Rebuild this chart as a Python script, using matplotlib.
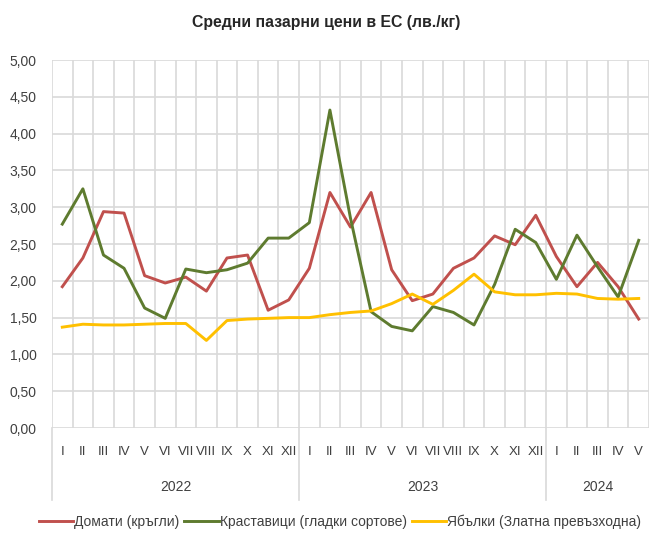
import matplotlib
matplotlib.use("Agg")
import matplotlib.pyplot as plt
from matplotlib.lines import Line2D
import matplotlib.transforms as mtransforms

plt.rcParams['font.family'] = ['Liberation Sans', 'DejaVu Sans']

months = ["I", "II", "III", "IV", "V", "VI", "VII", "VIII", "IX", "X", "XI", "XII",
          "I", "II", "III", "IV", "V", "VI", "VII", "VIII", "IX", "X", "XI", "XII",
          "I", "II", "III", "IV", "V"]
years = ["2022", "2023", "2024"]
year_counts = [12, 12, 5]

tomatoes = [1.92, 2.31, 2.94, 2.92, 2.07, 1.97, 2.05, 1.86, 2.31, 2.35, 1.60, 1.74,
            2.17, 3.20, 2.73, 3.20, 2.15, 1.73, 1.82, 2.17, 2.31, 2.61, 2.49, 2.89,
            2.33, 1.92, 2.25, 1.92, 1.48]
cucumbers = [2.77, 3.25, 2.35, 2.17, 1.63, 1.49, 2.16, 2.11, 2.15, 2.24, 2.58, 2.58,
             2.79, 4.32, 2.85, 1.58, 1.38, 1.32, 1.65, 1.57, 1.40, 1.95, 2.70, 2.52,
             2.02, 2.62, 2.19, 1.78, 2.55]
apples = [1.37, 1.41, 1.40, 1.40, 1.41, 1.42, 1.42, 1.19, 1.46, 1.48, 1.49, 1.50,
          1.50, 1.54, 1.57, 1.59, 1.69, 1.82, 1.68, 1.87, 2.09, 1.85, 1.81, 1.81,
          1.83, 1.82, 1.76, 1.75, 1.76]

labels = ["Домати (кръгли)", "Краставици (гладки сортове)", "Ябълки (Златна превъзходна)"]
colors = ["#C0504D", "#5E7B2F", "#FFC000"]

W, H = 649, 537
fig = plt.figure(figsize=(W / 100, H / 100), dpi=100)
L, R, T, B = 52, 649, 60, 428
ax = fig.add_axes([L / W, 1 - B / H, (R - L) / W, (B - T) / H])
ph = B - T

x = list(range(len(months)))
for series, lab, col in zip([tomatoes, cucumbers, apples], labels, colors):
    ax.plot(x, series, color=col, lw=2.1, label=lab, solid_joinstyle='round')

ax.set_xlim(-0.5, len(months) - 0.5)
ax.set_ylim(0, 5)
yt = [i * 0.5 for i in range(11)]
ax.set_yticks(yt)
ax.set_yticklabels([f"{v:.2f}".replace(".", ",") for v in yt], fontsize=10, color="#404040")
ax.set_xticks([i - 0.5 for i in range(len(months) + 1)])
ax.set_xticklabels([])
ax.tick_params(axis='both', length=0)
ax.tick_params(axis='y', pad=11)
ax.grid(True, color="#D9D9D9", lw=1.2)
ax.set_axisbelow(True)
for s in ax.spines.values():
    s.set_visible(False)

trans = mtransforms.blended_transform_factory(ax.transData, ax.transAxes)
for i, m in enumerate(months):
    ax.text(i, -24 / ph, m, transform=trans, ha='center', va='center', fontsize=9.5, color="#404040")

start = 0
bounds = [0]
for yname, cnt in zip(years, year_counts):
    ax.text(start + cnt / 2 - 0.5, -59 / ph, yname, transform=trans, ha='center', va='center',
            fontsize=10, color="#404040")
    start += cnt
    bounds.append(start)
for b in bounds[:-1]:
    ax.add_line(Line2D([b - 0.5, b - 0.5], [0, -72 / ph], transform=trans, color="#D9D9D9",
                       lw=1.2, clip_on=False))

fig.text(0.503, 1 - 22 / H, "Средни пазарни цени в ЕС (лв./кг)", ha='center', va='center',
         fontsize=11.4, fontweight='bold', color="#262626")

fig.legend(loc='center', bbox_to_anchor=(0.524, 1 - 522 / H), ncol=3, frameon=False,
           fontsize=10, handlelength=2.45, handletextpad=0.1, columnspacing=0.35,
           labelcolor="#404040")

fig.savefig("out.png", dpi=100)
